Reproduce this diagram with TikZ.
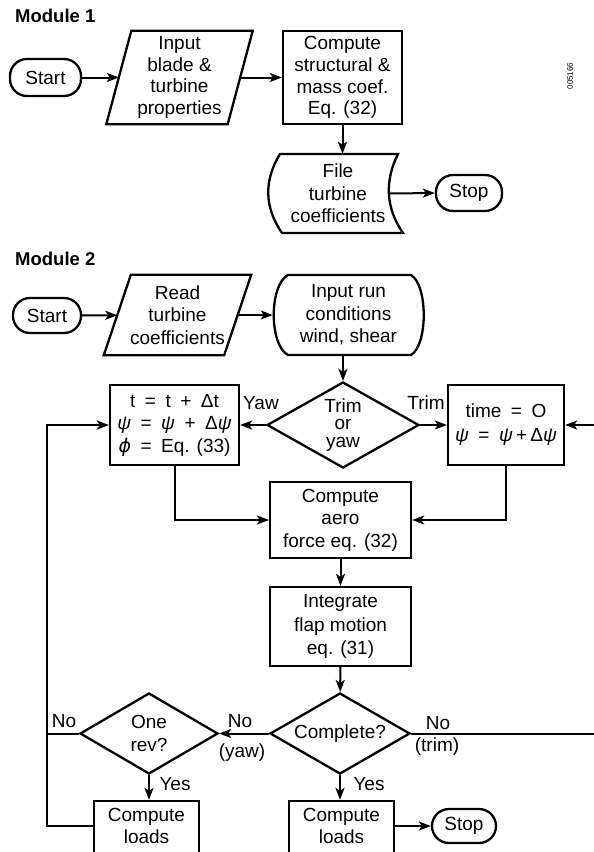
\documentclass[tikz,border=0pt]{standalone}
\usepackage{fontspec}
\setmainfont{Liberation Sans}
\newfontfamily\dejavu{DejaVu Sans}
\usetikzlibrary{shapes.geometric,arrows.meta,calc}
\newcommand{\mypsi}{\textit{ψ}}
\newcommand{\myphi}{{\dejavu\itshape ϕ}}
\begin{document}
\begin{tikzpicture}[x=1pt,y=-1pt,
  base/.style={font=\fontsize{19}{22.5}\selectfont, align=center, inner sep=0pt},
  term/.style={base, draw, line width=2.3pt, rounded corners=17pt},
  proc/.style={base, draw, line width=2.3pt},
  txt/.style={base},
  dia/.style={base, draw, diamond, line width=2.3pt},
  outline/.style={line width=2.3pt},
  conn/.style={line width=2pt},
  arr/.style={conn, -{Stealth[length=12pt,width=9pt,inset=3pt]}},
  title/.style={font=\fontsize{18.5}{20}\selectfont\bfseries, inner sep=0pt, anchor=base west},
  lab/.style={base, anchor=base}
]
\useasboundingbox (0,0) rectangle (594,852);

% ---------------- Module 1 ----------------
\node[title] (m1) at (15,22) {Module 1};
\node[term, minimum width=71, minimum height=37] (s1) at (45.5,77.5) {Start};
\node[txt, font=\fontsize{19}{21.7}\selectfont, minimum width=121, minimum height=93] (in1) at (179.5,77.5) {Input\\blade \&\\turbine\\properties};
\draw[outline] ($(in1.north west)+(12.5,0)$) -- ($(in1.north east)+(12.5,0)$) -- ($(in1.south east)+(-12.5,0)$) -- ($(in1.south west)+(-12.5,0)$) -- cycle;
\node[proc, font=\fontsize{19}{21.7}\selectfont, minimum width=119, minimum height=93] (c1) at (342.5,77.5) {Compute\\structural \&\\mass coef.\\Eq. (32)};
\node[txt, minimum width=104, minimum height=79] (f1) at (338,193.5) {File\\turbine\\coefficients};
\draw[outline] (280,154) -- (398,154) .. controls (385,180) and (385,207) .. (403,233) -- (282,233) .. controls (264,207) and (264,180) .. (280,154) -- cycle;
\node[term, minimum width=66, minimum height=36] (st1) at (469,193) {Stop};
\node[font=\fontsize{8}{8}\selectfont, inner sep=0pt, rotate=90] (id) at (570,76) {005166};

\draw[arr] (s1) -- (in1);
\draw[arr] (in1) -- (c1);
\draw[arr] (c1.south) -- (c1.south |- f1.north);
\draw[arr] (f1.east) -- (st1.west);

% ---------------- Module 2 ----------------
\node[title] (m2) at (15,265) {Module 2};
\node[term, minimum width=68, minimum height=35] (s2) at (47,315.5) {Start};
\node[txt, minimum width=120, minimum height=80] (in2) at (177.5,315) {Read\\turbine\\coefficients};
\draw[outline] ($(in2.north west)+(13.5,0)$) -- ($(in2.north east)+(13.5,0)$) -- ($(in2.south east)+(-13.5,0)$) -- ($(in2.south west)+(-13.5,0)$) -- cycle;
\node[txt, minimum width=151, minimum height=80] (run) at (348.5,315) {Input run\\conditions\\wind, shear};
\draw[outline] (288,275) -- (411,275) .. controls (428,285) and (428,345) .. (411,355) -- (288,355) .. controls (269,345) and (269,285) .. (288,275) -- cycle;

\node[dia, font=\fontsize{19}{17.5}\selectfont, minimum width=152, minimum height=86, shape aspect=1.77] (trim) at (343,425) {Trim\\or\\yaw};
\node[proc, minimum width=129, minimum height=80] (yawb) at (174.5,425) {t\enspace=\enspace t\enspace+\enspace Δt\\\mypsi\enspace=\enspace\mypsi\enspace+\enspace Δ\mypsi\\\myphi\enspace=\enspace Eq. (33)};
\node[proc, font=\fontsize{19}{24}\selectfont, minimum width=116, minimum height=80] (trimb) at (506,425) {time\enspace=\enspace O\\\mypsi\enspace=\enspace\mypsi\,+\,Δ\mypsi};
\node[lab] (lyaw) at (261,409) {Yaw};
\node[lab] (ltrim) at (426,409) {Trim};

\node[proc, minimum width=141, minimum height=76] (aero) at (340.5,520) {Compute\\aero\\force eq. (32)};
\node[proc, font=\fontsize{19}{23.5}\selectfont, minimum width=141, minimum height=79] (integ) at (340.5,626.5) {Integrate\\flap motion\\eq. (31)};

\node[dia, minimum width=140, minimum height=81, shape aspect=1.73] (comp) at (340,733.5) {Complete?};
\node[dia, minimum width=138, minimum height=81, shape aspect=1.7] (rev) at (149,733.5) {One\\rev?};

\node[proc, minimum width=105, minimum height=60] (loadsL) at (146.5,831) {};
\node[txt, font=\fontsize{19}{22}\selectfont] (loadsLt) at (146.5,826) {Compute\\loads};
\node[proc, minimum width=105, minimum height=60] (loadsR) at (341.5,831) {};
\node[txt, font=\fontsize{19}{22}\selectfont] (loadsRt) at (341.5,826) {Compute\\loads};
\node[term, minimum width=64, minimum height=34] (st2) at (464,826) {Stop};

\node[lab] (lno1) at (64,727) {No};
\node[lab] (lno2) at (240,727) {No};
\node[lab] (lyaw2) at (242,757) {(yaw)};
\node[lab] (lno3) at (438,729) {No};
\node[lab] (ltrim2) at (437,751) {(trim)};
\node[lab] (lyes1) at (175,790) {Yes};
\node[lab] (lyes2) at (369,790) {Yes};

\coordinate (lx) at (47,0);
\coordinate (rx) at (601,0);

\draw[arr] (s2) -- (in2);
\draw[arr] (in2) -- (run);
\draw[arr] (trim.north |- run.south) -- (trim.north);
\draw[arr] (trim.west) -- (yawb.east);
\draw[arr] (trim.east) -- (trimb.west);
\draw[arr] (yawb.south) |- (aero.west);
\draw[arr] (trimb.south) |- (aero.east);
\draw[arr] (aero) -- (integ);
\draw[arr] (integ) -- (comp);
\draw[arr] (comp.west) -- (rev.east);
\draw[conn] (rev.west) -- (rev.west -| lx);
\draw[arr] (loadsL.west |- loadsLt) -- (lx |- loadsLt) -- (lx |- yawb.west) -- (yawb.west);
\draw[arr] (rev.south) -- (rev.south |- loadsL.north);
\draw[arr] (comp.south) -- (comp.south |- loadsR.north);
\draw[arr] (loadsR.east |- loadsRt) -- (st2);
\draw[arr] (comp.east) -- (comp.east -| rx) -- (rx |- trimb.east) -- (trimb.east);
\end{tikzpicture}
\end{document}
